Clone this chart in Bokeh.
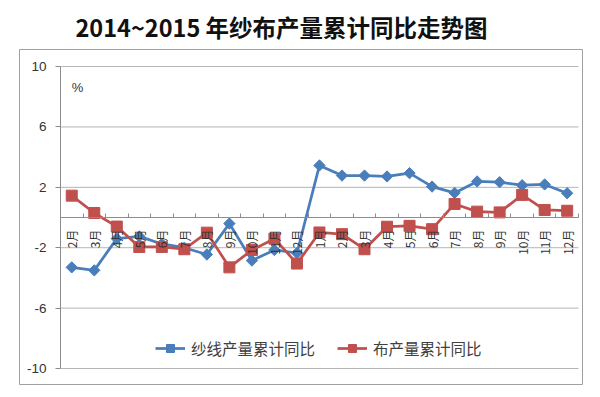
import numpy as np
from bokeh.plotting import figure
from bokeh.models import Range1d, FixedTicker, Legend, LegendItem, Label
from bokeh.embed import file_html
from bokeh.resources import INLINE

title_text = "2014~2015 年纱布产量累计同比走势图"
months = ["2月", "3月", "4月", "5月", "6月", "7月", "8月", "9月", "10月", "11月", "12月",
          "1月", "2月", "3月", "4月", "5月", "6月", "7月", "8月", "9月", "10月", "11月", "12月"]
yarn = [-3.3, -3.5, -1.4, -1.25, -1.75, -2.0, -2.45, -0.4, -2.85, -2.15, -2.35,
        3.45, 2.78, 2.78, 2.72, 2.94, 2.05, 1.63, 2.39, 2.34, 2.14, 2.19, 1.61]
cloth = [1.45, 0.3, -0.6, -1.95, -1.95, -2.1, -1.0, -3.3, -2.15, -1.4, -3.05,
         -0.99, -1.1, -2.1, -0.61, -0.55, -0.77, 0.9, 0.39, 0.34, 1.5, 0.5, 0.45]
series_names = ["纱线产量累计同比", "布产量累计同比"]
y_ticks = [-10, -6, -2, 2, 6, 10]
y_tick_labels = ["-10", "-6", "-2", "2", "6", "10"]
unit_label = "%"

BLUE = "#4a7ebb"
RED = "#c0504d"
GRID = "#b4b4b4"
AXIS = "#8c8c8c"
TXT = "#333333"
CJK = "Noto Sans CJK SC"

n = len(months)
x = list(range(n))

p = figure(frame_width=563, frame_height=335, output_backend="svg", toolbar_location=None,
           x_range=Range1d(-2.32, n - 0.5 + 0.18), y_range=Range1d(-11.06, 11.13),
           min_border_left=19, min_border_right=18, min_border_top=49, min_border_bottom=5)

p.xgrid.visible = False
p.ygrid.visible = False
p.outline_line_color = "#a0a0a0"
p.outline_line_width = 1

# horizontal gridlines within the plot area
p.segment(x0=[-0.5] * len(y_ticks), x1=[n - 0.5] * len(y_ticks), y0=y_ticks, y1=y_ticks,
          line_color=GRID, line_width=1)

# x axis at y = 0
xa = p.xaxis[0]
xa.fixed_location = 0
xa.bounds = (-0.5, n - 0.5)
xa.ticker = FixedTicker(ticks=x, minor_ticks=[i - 0.5 for i in range(n + 1)])
xa.major_label_overrides = {i: m for i, m in enumerate(months)}
xa.major_label_orientation = np.pi / 2
xa.major_tick_in = 0
xa.major_tick_out = 0
xa.minor_tick_in = 4
xa.minor_tick_out = 0
xa.minor_tick_line_color = AXIS
xa.axis_line_color = AXIS
xa.major_label_standoff = 12
xa.major_label_text_font = CJK
xa.major_label_text_font_size = "12px"
xa.major_label_text_color = TXT

# y axis at left edge of plot area
ya = p.yaxis[0]
ya.fixed_location = -0.5
ya.bounds = (-10, 10)
ya.ticker = FixedTicker(ticks=y_ticks)
ya.major_label_overrides = {t: l for t, l in zip(y_ticks, y_tick_labels)}
ya.major_tick_out = 5
ya.major_tick_in = 0
ya.minor_tick_line_color = None
ya.major_tick_line_color = AXIS
ya.axis_line_color = AXIS
ya.major_label_standoff = 9
ya.major_label_text_font = "Liberation Sans"
ya.major_label_text_font_size = "13.5px"
ya.major_label_text_color = TXT

r1 = p.line(x, yarn, line_color=BLUE, line_width=2.75)
r1m = p.scatter(x, yarn, marker="square", angle=np.pi / 4, size=8,
                fill_color=BLUE, line_color=BLUE)
r2 = p.line(x, cloth, line_color=RED, line_width=2.75)
r2m = p.scatter(x, cloth, marker="square", size=11, fill_color=RED, line_color=RED)

legend = Legend(items=[LegendItem(label=series_names[0], renderers=[r1, r1m]),
                       LegendItem(label=series_names[1], renderers=[r2, r2m])],
                location=(136, 25), orientation="horizontal",
                border_line_color=None, background_fill_alpha=0,
                padding=0, margin=0, spacing=22, glyph_width=30, glyph_height=20,
                label_standoff=6, label_height=20,
                label_text_font=CJK, label_text_font_size="15.5px", label_text_color="#404040")
p.add_layout(legend)

p.add_layout(Label(x=0, y=8.6, text=unit_label, text_font="Liberation Sans",
                   text_font_size="13px", text_baseline="middle", text_align="left",
                   text_color=TXT))

p.title.text = title_text
p.title.align = "left"
p.title.offset = 56
p.title.text_font = CJK
p.title.text_font_size = "23.5px"
p.title.text_font_style = "bold"
p.title.text_color = "#111111"
p.title.vertical_align = "top"
p.title.standoff = 8

open("out.html", "w").write(file_html(p, INLINE))
